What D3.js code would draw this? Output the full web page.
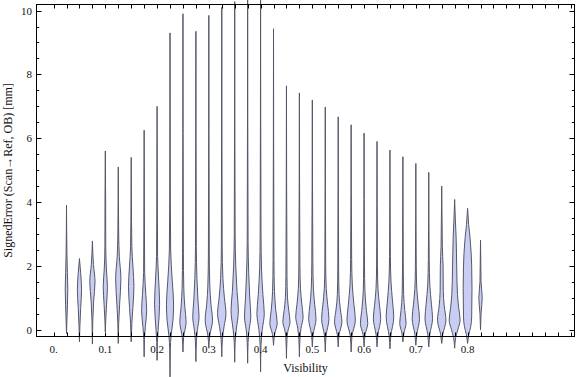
<!DOCTYPE html>
<html><head><meta charset="utf-8">
<script src="https://cdn.jsdelivr.net/npm/d3@7"></script>
<style>body{margin:0;background:#fff}svg{display:block}</style>
</head><body><svg id="c" width="576" height="377"></svg>
<script>
// Visibility bin of each violin
const visibility = [0.025,0.05,0.075,0.1,0.125,0.15,0.175,0.2,0.225,0.25,0.275,0.3,0.325,0.35,0.375,0.4,0.425,0.45,0.475,0.5,0.525,0.55,0.575,0.6,0.625,0.65,0.675,0.7,0.725,0.75,0.775,0.8,0.825];
// Density profile of each violin: [signed error (mm), relative half-width]
const densityProfiles = [
 [[-0.12,0],[0.3,0.4],[0.8,0.9],[1.25,1.2],[1.8,0.8],[2.4,0.4],[3.9,0]],
 [[-0.38,0],[0.1,0.4],[0.7,1.2],[1.25,2.0],[1.8,1.1],[2.23,0]],
 [[-0.45,0],[0.3,0.4],[0.9,1.2],[1.5,2.5],[2.05,1.0],[2.4,0.4],[2.78,0]],
 [[-0.07,0],[0.3,0.4],[0.8,1.2],[1.35,2.0],[1.9,1.0],[2.6,0.4],[4.0,0.3],[5.6,0]],
 [[-0.43,0],[0.2,0.4],[0.8,1.3],[1.6,2.5],[2.3,1.0],[3.0,0.4],[5.1,0]],
 [[-0.38,0],[0.2,0.6],[0.7,1.6],[1.35,2.6],[2.0,1.6],[2.6,0.6],[3.4,0.3],[5.4,0]],
 [[-0.85,0],[-0.3,0.3],[0.1,1.2],[0.6,2.4],[1.1,1.6],[1.8,0.5],[3.0,0.3],[6.25,0]],
 [[-0.96,0],[-0.4,0.3],[0.0,1.0],[0.8,2.4],[1.5,1.6],[2.3,0.5],[3.5,0.3],[7.0,0]],
 [[-1.48,0],[-0.6,0.3],[-0.2,1.0],[0.3,2.8],[0.8,3.4],[1.5,2.2],[2.5,0.6],[4.0,0.3],[9.3,0]],
 [[-0.7,0],[-0.25,0.6],[0.25,3.0],[0.7,1.8],[1.3,0.8],[2.4,0.4],[9.9,0]],
 [[-1.0,0],[-0.35,0.5],[0.0,1.5],[0.4,3.0],[0.9,2.0],[1.6,1.0],[2.6,0.4],[9.35,0]],
 [[-0.58,0],[-0.2,0.8],[0.3,3.5],[0.8,2.0],[1.4,0.9],[2.4,0.4],[9.85,0]],
 [[-0.85,0],[-0.3,0.6],[0.1,2.2],[0.5,4.0],[1.0,2.5],[1.6,1.1],[2.6,0.4],[10.1,0]],
 [[-1.02,0],[-0.4,0.4],[0.0,1.5],[0.6,3.5],[1.2,2.2],[2.0,1.0],[3.0,0.4],[10.28,0]],
 [[-1.05,0],[-0.4,0.4],[0.0,1.4],[0.4,3.0],[1.0,2.0],[1.8,1.0],[2.8,0.4],[10.5,0]],
 [[-1.32,0],[-0.5,0.4],[0.0,1.6],[0.5,3.5],[1.1,2.2],[1.9,0.9],[3.0,0.4],[10.5,0]],
 [[-0.49,0],[-0.15,1.0],[0.2,3.5],[0.6,2.2],[1.2,0.9],[2.2,0.4],[9.43,0]],
 [[-0.9,0],[-0.3,0.5],[-0.05,1.3],[0.25,3.4],[0.6,2.2],[1.0,1.0],[1.7,0.5],[7.64,0]],
 [[-0.85,0],[-0.3,0.5],[0.05,1.6],[0.4,3.5],[0.8,2.3],[1.3,1.0],[2.0,0.5],[7.42,0]],
 [[-0.54,0],[-0.15,0.8],[0.35,3.5],[0.8,2.2],[1.3,1.0],[2.1,0.5],[7.2,0]],
 [[-0.7,0],[-0.2,0.7],[0.35,3.5],[0.8,2.2],[1.3,0.9],[2.0,0.4],[6.98,0]],
 [[-0.54,0],[-0.15,0.9],[0.25,3.5],[0.65,2.0],[1.1,0.8],[1.9,0.4],[6.67,0]],
 [[-0.7,0],[-0.2,0.8],[0.3,4.0],[0.8,2.6],[1.4,1.1],[2.2,0.5],[6.42,0]],
 [[-0.54,0],[-0.15,1.0],[0.2,3.5],[0.6,2.2],[1.2,0.8],[2.0,0.4],[6.16,0]],
 [[-0.54,0],[-0.15,0.9],[0.35,3.5],[0.8,2.2],[1.3,0.9],[2.0,0.4],[5.9,0]],
 [[-0.6,0],[-0.2,0.8],[0.4,3.6],[0.9,2.4],[1.5,1.0],[2.3,0.4],[5.63,0]],
 [[-0.38,0],[-0.1,1.0],[0.2,3.0],[0.6,1.8],[1.1,0.7],[1.9,0.35],[5.42,0]],
 [[-0.49,0],[-0.15,0.9],[0.35,3.5],[0.8,2.2],[1.3,0.9],[2.0,0.4],[5.21,0]],
 [[-0.54,0],[-0.15,1.0],[0.35,3.6],[0.8,2.5],[1.4,1.0],[2.2,0.4],[4.93,0]],
 [[-0.43,0],[-0.15,1.0],[0.3,4.0],[0.75,2.4],[1.2,1.5],[2.0,1.3],[2.6,0.6],[3.5,0.3],[4.5,0]],
 [[-0.58,0],[-0.25,1.0],[0.0,3.0],[0.3,5.2],[0.7,3.8],[1.1,2.7],[1.9,2.0],[2.9,1.4],[3.5,0.6],[4.08,0]],
 [[-0.43,0],[-0.15,1.2],[0.1,3.0],[0.4,3.9],[1.3,4.2],[2.0,3.9],[2.4,3.4],[2.9,2.3],[3.3,1.0],[3.8,0]],
 [[0.0,0],[0.5,0.5],[1.0,1.6],[1.5,0.5],[2.0,0.3],[2.81,0]]
];
const xTickValues = [0,0.1,0.2,0.3,0.4,0.5,0.6,0.7,0.8];
const xTickLabels = ["0.","0.1","0.2","0.3","0.4","0.5","0.6","0.7","0.8"];
const yTickValues = [0,2,4,6,8,10];
const yTickLabels = ["0","2","4","6","8","10"];

const svg = d3.select("#c");
const L = 36.5, R = 574.5, T = 4.5, B = 336.5;
const x = d3.scaleLinear().domain([-0.033, 1.0066]).range([L, R]);
const y = d3.scaleLinear().domain([-0.213, 10.19]).range([B, T]);
const w = d3.scaleLinear().domain([0, 1]).range([0, 1.05]);

// violins
const area = d3.area()
  .y(d => y(d[0]))
  .curve(d3.curveMonotoneY);
const vg = svg.append("g");
visibility.forEach((v, i) => {
  const cx = x(v);
  area.x0(d => cx - w(d[1])).x1(d => cx + w(d[1]));
  vg.append("path")
    .attr("d", area(densityProfiles[i]))
    .attr("fill", "#c9cdf4")
    .attr("stroke", "#545866")
    .attr("stroke-width", 1)
    .attr("stroke-linejoin", "round");
});

// frame
const fg = svg.append("g").attr("stroke", "#000").attr("fill", "none");
fg.append("rect").attr("x", L).attr("y", T).attr("width", R - L).attr("height", B - T).attr("stroke-width", 1);
const xMinor = d3.range(0, 1.0001, 0.025);
xMinor.forEach(v => {
  const px = Math.round(x(v)) + 0.5;
  fg.append("line").attr("x1", px).attr("x2", px).attr("y1", B).attr("y2", B - 4);
  fg.append("line").attr("x1", px).attr("x2", px).attr("y1", T).attr("y2", T + 4);
});
const yMinor = d3.range(0, 10.0001, 0.5);
yMinor.forEach(v => {
  const py = Math.round(y(v)) + 0.5;
  const len = (Math.abs(v % 2) < 1e-6) ? 5 : 2.7;
  fg.append("line").attr("x1", L).attr("x2", L + len).attr("y1", py).attr("y2", py);
  fg.append("line").attr("x1", R).attr("x2", R - len).attr("y1", py).attr("y2", py);
});

// tick labels
const tg = svg.append("g").attr("font-family", "'Liberation Serif','Times New Roman',serif").attr("font-size", 11).attr("fill", "#111");
xTickValues.forEach((v, i) => {
  tg.append("text").attr("x", x(v)).attr("y", 353).attr("text-anchor", "middle").text(xTickLabels[i]);
});
yTickValues.forEach((v, i) => {
  tg.append("text").attr("x", 32).attr("y", y(v) + 4).attr("text-anchor", "end").text(yTickLabels[i]);
});

// axis labels
const lg = svg.append("g").attr("font-family", "'Liberation Serif','Times New Roman',serif").attr("font-size", 12).attr("fill", "#111");
lg.append("text").attr("x", (L + R) / 2).attr("y", 372).attr("text-anchor", "middle").text("Visibility");
lg.append("text").attr("transform", `translate(12,${(T + B) / 2}) rotate(-90)`).attr("text-anchor", "middle").text("SignedError (Scan\u2192Ref, OB) [mm]");
</script>
</body></html>
